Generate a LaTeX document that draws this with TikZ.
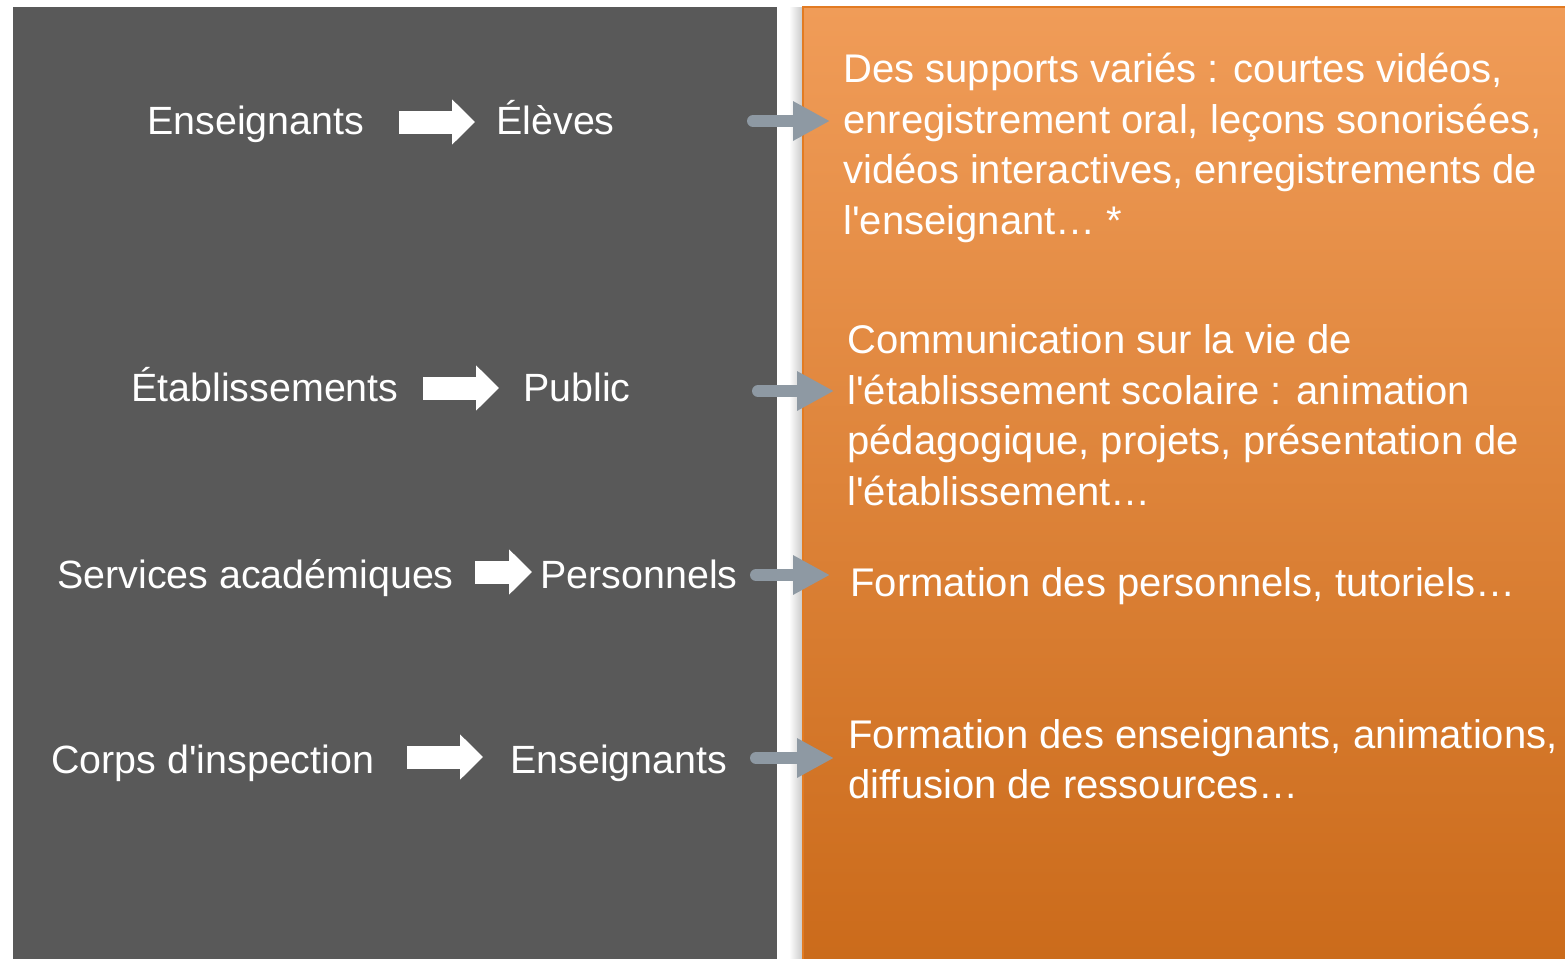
\documentclass[tikz,border=0pt]{standalone}
\usepackage{fontspec}
\setmainfont{Liberation Sans}[Ligatures=TeXOff]
\usetikzlibrary{arrows.meta}

\definecolor{panelgray}{HTML}{595959}
\definecolor{orangetop}{HTML}{F09C58}
\definecolor{orangebot}{HTML}{CB6B1B}
\definecolor{orangeedge}{HTML}{E27B22}
\definecolor{linkgray}{HTML}{8E99A3}

\tikzset{
  word/.style={text=white, font=\fontsize{19.7}{25.25}\selectfont, inner sep=0pt, anchor=base west},
  usage/.style={word, font=\fontsize{20}{25.25}\selectfont, align=left, anchor=west},
  flow/.style={draw=white, line width=11.5pt, -{Triangle[length=11.5pt,width=22pt]}},
  link/.style={draw=linkgray, line width=6pt, line cap=round, -{Triangle[length=18.5pt,width=18.5pt]}},
}

\begin{document}
\begin{tikzpicture}[x=0.5pt, y=-0.5pt]
    % Canvas and the two panels
    \useasboundingbox (0,0) rectangle (1565,959);
    \fill[panelgray] (13,7) rectangle (777,959);
    \shade[left color=white, right color=black!22] (789,7) rectangle (803,959);
    \shade[top color=orangetop, bottom color=orangebot] (803,7) rectangle (1565,959);
    \draw[orangeedge, line width=1.2pt] (803,959) -- (803,7) -- (1565,7);

    % Who speaks to whom
    \node[word] (src1) at (147,134.5) {Enseignants};
    \node[word] (dst1) at (496,134.5) {Élèves};
    \node[word] (src2) at (131,401) {Établissements};
    \node[word] (dst2) at (523,401) {Public};
    \node[word] (src3) at (57,588) {Services académiques};
    \node[word] (dst3) at (540,588) {Personnels};
    \node[word] (src4) at (51,773) {Corps d'inspection};
    \node[word] (dst4) at (510,773) {Enseignants};

    % White arrows between the two actors
    \coordinate (a1) at (399,122);
    \coordinate (b1) at (475,122);
    \coordinate (a2) at (423,388);
    \coordinate (b2) at (499,388);
    \coordinate (a3) at (475,572);
    \coordinate (b3) at (532,572);
    \coordinate (a4) at (407,757);
    \coordinate (b4) at (483,757);
    \draw[flow] (a1) -- (b1);
    \draw[flow] (a2) -- (b2);
    \draw[flow] (a3) -- (b3);
    \draw[flow] (a4) -- (b4);

    % What is shared
    \node[usage] (use1) at (843,148) {Des supports variés : courtes vidéos,\\enregistrement oral, leçons sonorisées,\\vidéos interactives, enregistrements de\\l'enseignant…  *};
    \node[usage] (use2) at (847,415) {Communication sur la vie de\\l'établissement scolaire : animation\\pédagogique, projets, présentation de\\l'établissement…};
    \node[usage] (use3) at (850,586) {Formation des personnels, tutoriels…};
    \node[usage] (use4) at (848,759) {Formation des enseignants, animations,\\diffusion de ressources…};

    % Grey links to the right panel
    \coordinate (from1) at (753,121);
    \coordinate (from2) at (758,391);
    \coordinate (from3) at (756,575);
    \coordinate (from4) at (756,758);
    \draw[link, shorten >=6.5pt] (from1) -- (from1 -| use1.west);
    \draw[link, shorten >=6.5pt] (from2) -- (from2 -| use2.west);
    \draw[link, shorten >=10pt] (from3) -- (from3 -| use3.west);
    \draw[link, shorten >=7pt] (from4) -- (from4 -| use4.west);
\end{tikzpicture}
\end{document}
